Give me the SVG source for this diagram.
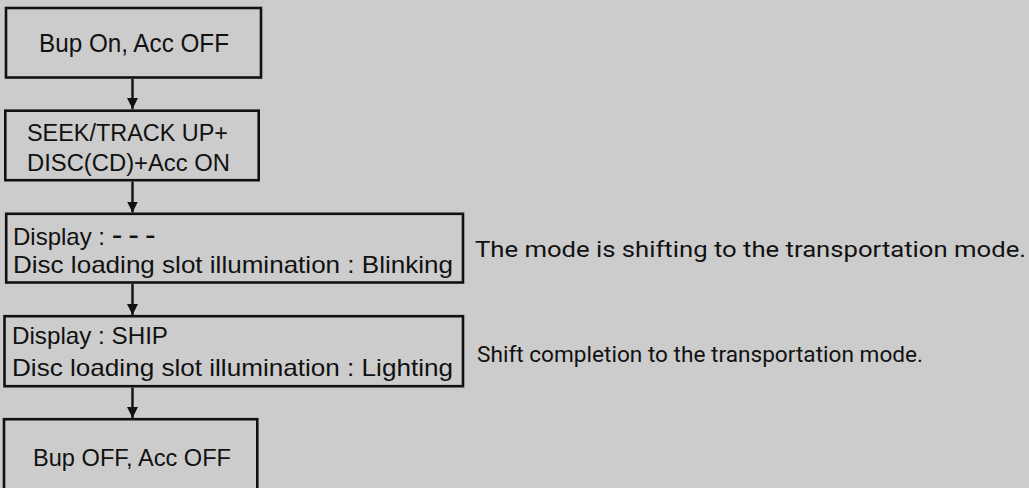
<svg xmlns="http://www.w3.org/2000/svg" width="1029" height="488" viewBox="0 0 1029 488">
<style>
.box{fill:#cccccc;stroke:#111111;stroke-width:2.6}
.t{font-family:"Liberation Sans",Arial,sans-serif;fill:#111111}
.n{font-family:Roboto,"Liberation Sans",sans-serif;fill:#111111;font-size:22.5px}
.c{stroke:#111111;stroke-width:2.4;fill:none}
</style>
<defs>
<marker id="ah" markerUnits="userSpaceOnUse" markerWidth="11" markerHeight="11" refX="10" refY="5" orient="auto" viewBox="0 0 10 10">
<path d="M0,0 L10,5 L0,10 Z" fill="#111111"/>
</marker>
</defs>
<rect x="0" y="0" width="1029" height="488" fill="#cccccc"/>
<g id="n1">
<rect class="box" x="6" y="8" width="255" height="69.5"/>
<text class="t" x="134" y="52" font-size="25" text-anchor="middle" textLength="190" lengthAdjust="spacingAndGlyphs">Bup On, Acc OFF</text>
</g>
<g id="n2">
<rect class="box" x="5.3" y="110.7" width="253.4" height="69.5"/>
<text class="t" x="27" y="141" font-size="23.5" textLength="201" lengthAdjust="spacingAndGlyphs">SEEK/TRACK UP+</text>
<text class="t" x="27" y="171" font-size="23.5" textLength="203" lengthAdjust="spacingAndGlyphs">DISC(CD)+Acc ON</text>
</g>
<g id="n3">
<rect class="box" x="6.2" y="213.8" width="456.8" height="68.7"/>
<text class="t" x="13" y="244.5" font-size="24">Display : <tspan letter-spacing="6" font-size="32">---</tspan></text>
<text class="t" x="13" y="272.7" font-size="24" textLength="440" lengthAdjust="spacingAndGlyphs">Disc loading slot illumination : Blinking</text>
</g>
<g id="n4">
<rect class="box" x="4.5" y="316.2" width="458.5" height="70"/>
<text class="t" x="12" y="344" font-size="24" textLength="156" lengthAdjust="spacingAndGlyphs">Display : SHIP</text>
<text class="t" x="12" y="376" font-size="24" textLength="441" lengthAdjust="spacingAndGlyphs">Disc loading slot illumination : Lighting</text>
</g>
<g id="n5">
<rect class="box" x="4" y="419.2" width="253.3" height="80"/>
<text class="t" x="132" y="466" font-size="24.5" text-anchor="middle" textLength="198" lengthAdjust="spacingAndGlyphs">Bup OFF, Acc OFF</text>
</g>
<g id="notes">
<text class="n" x="475" y="257" textLength="551" lengthAdjust="spacingAndGlyphs">The mode is shifting to the transportation mode.</text>
<text class="n" x="477" y="362" textLength="446" lengthAdjust="spacingAndGlyphs">Shift completion to the transportation mode.</text>
</g>
<g id="connectors">
<line class="c" x1="132.5" y1="79" x2="132.5" y2="109" marker-end="url(#ah)"/>
<line class="c" x1="132.5" y1="181.5" x2="132.5" y2="212.5" marker-end="url(#ah)"/>
<line class="c" x1="132.5" y1="284" x2="132.5" y2="315" marker-end="url(#ah)"/>
<line class="c" x1="132.5" y1="387.5" x2="132.5" y2="418" marker-end="url(#ah)"/>
</g>
</svg>
